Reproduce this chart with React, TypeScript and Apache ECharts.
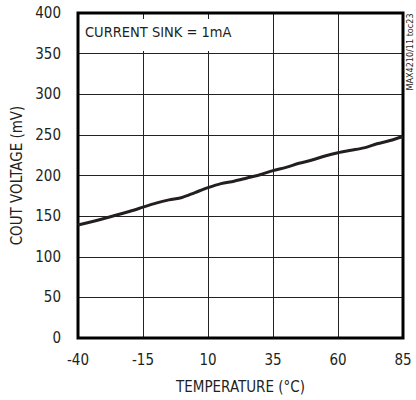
import React, { useEffect, useRef } from "react";
import * as echarts from "echarts";

const temperatures = [-40, -30, -20, -15, -10, -5, 0, 5, 10, 15, 20, 25, 30, 35, 40, 45, 50, 55, 60, 65, 70, 75, 80, 85];
const voltages = [139, 147, 156, 161, 166, 170, 173, 179, 185, 190, 193, 197, 201, 206, 210, 215, 219, 224, 228, 231, 234, 239, 243, 248];
const xMin = -40;
const xMax = 85;
const xStep = 25;
const yMin = 0;
const yMax = 400;
const yStep = 50;
const noteText = "CURRENT SINK = 1mA";
const sideText = "MAX4210/11 toc23";
const xTitle = "TEMPERATURE (°C)";
const yTitle = "COUT VOLTAGE (mV)";

const FONT = "'DejaVu Sans Condensed', 'Liberation Sans Narrow', Arial, sans-serif";
const INK = "#231f20";

export default function App() {
  const ref = useRef<HTMLDivElement>(null);
  useEffect(() => {
    document.body.style.margin = "0";
    if (!ref.current) return;
    const chart = echarts.init(ref.current, undefined, { renderer: "svg" });
    chart.setOption({
      animation: false,
      grid: {
        left: 78,
        right: 13,
        top: 13,
        bottom: 62,
        show: true,
        borderColor: "#000",
        borderWidth: 3,
        backgroundColor: "transparent",
        z: 3,
      },
      xAxis: {
        type: "value",
        min: 0,
        max: xMax - xMin,
        interval: xStep,
        name: xTitle,
        nameLocation: "middle",
        nameGap: 41,
        nameTextStyle: { fontFamily: FONT, fontSize: 15, color: INK },
        axisLine: { show: false },
        axisTick: { show: false },
        axisLabel: {
          margin: 14,
          fontFamily: FONT,
          fontSize: 15,
          color: INK,
          formatter: (v: number) => String(v + xMin),
        },
        splitLine: { show: true, lineStyle: { color: "#222", width: 1 } },
      },
      yAxis: {
        type: "value",
        min: yMin,
        max: yMax,
        interval: yStep,
        name: yTitle,
        nameLocation: "middle",
        nameGap: 53,
        nameTextStyle: { fontFamily: FONT, fontSize: 15, color: INK },
        axisLine: { show: false },
        axisTick: { show: false },
        axisLabel: { margin: 17, fontFamily: FONT, fontSize: 15, color: INK },
        splitLine: { show: true, lineStyle: { color: "#222", width: 1 } },
      },
      series: [
        {
          type: "line",
          data: temperatures.map((t, i) => [t - xMin, voltages[i]]),
          showSymbol: false,
          smooth: 0.3,
          lineStyle: { color: INK, width: 3 },
          z: 5,
        },
      ],
      graphic: [
        {
          type: "rect",
          z: 10,
          shape: { x: 80, y: 19, width: 157, height: 32 },
          style: { fill: "#fff" },
        },
        {
          type: "text",
          z: 11,
          x: 85,
          y: 32,
          style: {
            text: noteText,
            font: `14.5px ${FONT}`,
            fill: INK,
            align: "left",
            verticalAlign: "middle",
          },
        },
        {
          type: "text",
          z: 11,
          x: 410,
          y: 52,
          rotation: Math.PI / 2,
          style: {
            text: sideText,
            font: `9px ${FONT}`,
            fill: INK,
            align: "center",
            verticalAlign: "middle",
          },
        },
      ],
    });
    return () => chart.dispose();
  }, []);
  return <div ref={ref} style={{ width: 416, height: 400 }} />;
}
